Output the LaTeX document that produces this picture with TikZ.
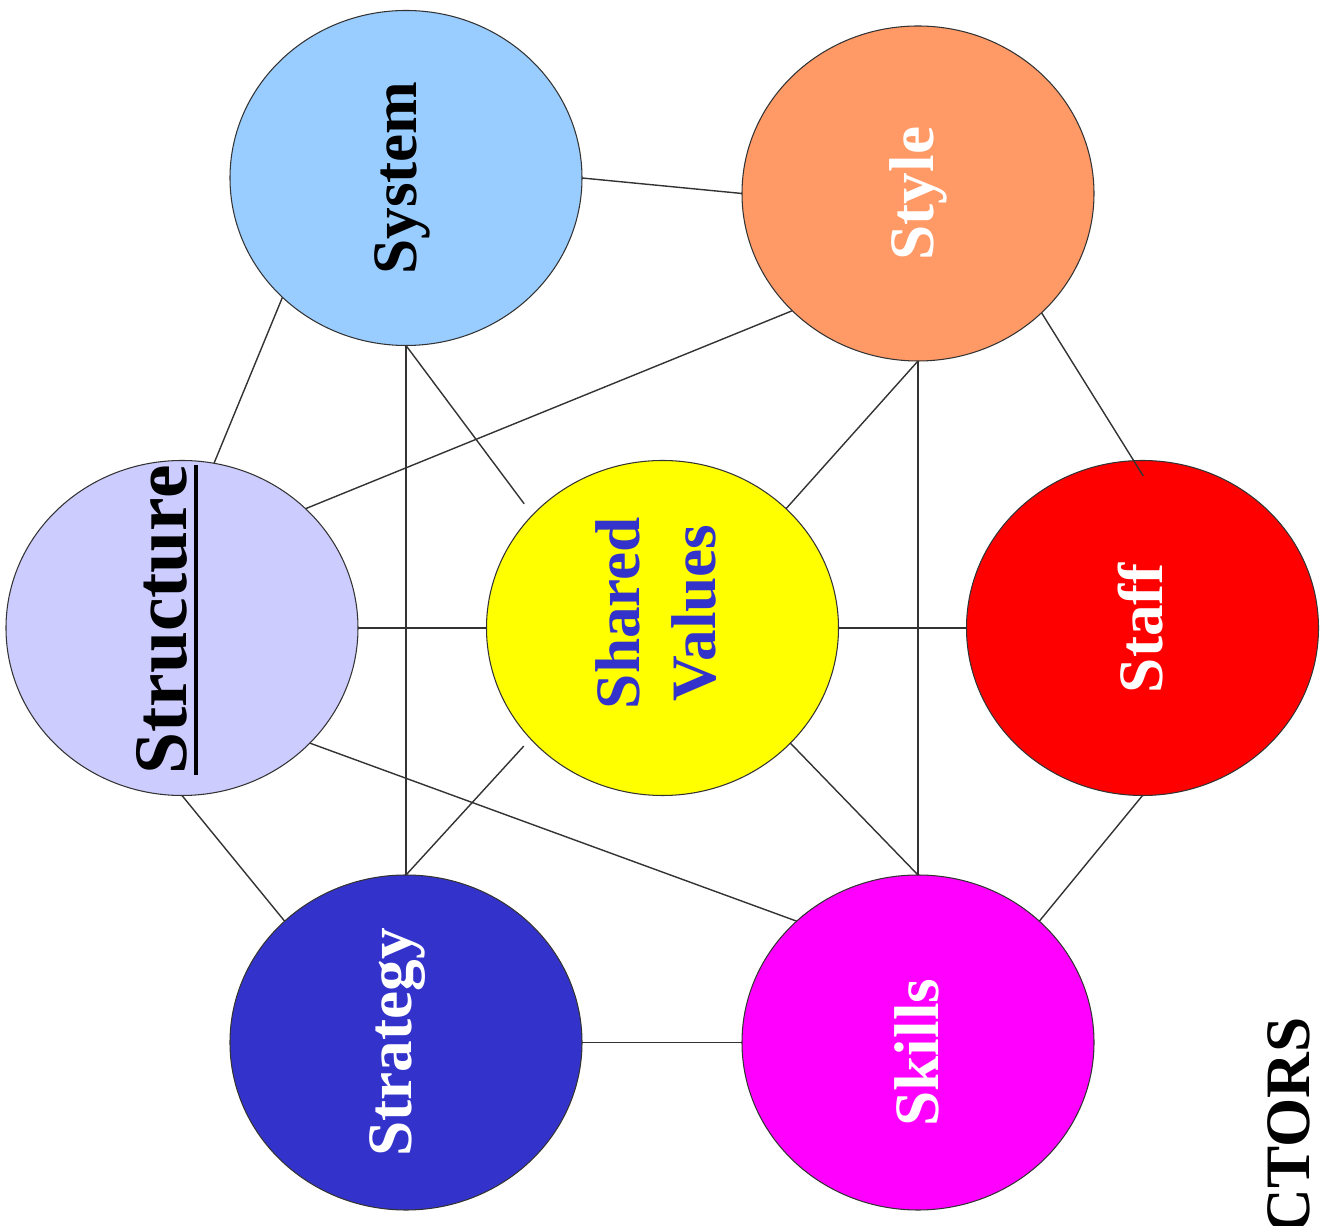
\documentclass[tikz,border=0pt]{standalone}
\usepackage{fontspec}
\setmainfont{Liberation Serif}
\usetikzlibrary{positioning, shapes.geometric}

\definecolor{systemblue}{RGB}{153,204,255}
\definecolor{styleorange}{RGB}{255,153,102}
\definecolor{structlilac}{RGB}{204,204,255}
\definecolor{strategyblue}{RGB}{51,51,204}
\definecolor{sharedyellow}{RGB}{255,255,0}
\definecolor{skillsmagenta}{RGB}{255,0,255}
\definecolor{staffred}{RGB}{255,0,0}

% rotated label of no size, centred on the node, moved by #1 (right) and #2 (up)
\newsavebox\turnbox
\newcommand{\shiftlabel}[3]{\sbox\turnbox{\rotatebox{90}{\begin{tabular}{@{}c@{}}#3\end{tabular}}}%
  \smash{\hspace*{#1}\makebox[0pt]{\raisebox{\dimexpr(\dp\turnbox-\ht\turnbox)/2+#2\relax}{\usebox\turnbox}}\hspace*{-#1}}}
\newcommand{\turnlabel}[1]{\shiftlabel{0pt}{0pt}{#1}}
\newcommand{\thickul}[1]{\vtop{\hbox{#1}\kern4pt\hrule height 2.3pt}}

\tikzset{
  factor/.style={ellipse, draw=black!80, line width=0.6pt,
    minimum width=7.04cm, minimum height=6.7cm, inner sep=0pt, outer sep=0pt,
    font=\bfseries\fontsize{36}{43}\selectfont},
  link/.style={draw=black!80, line width=0.8pt}
}

\begin{document}
\begin{tikzpicture}[node distance=1cm, on grid]
    \useasboundingbox (-13.25,-11.96) rectangle (13.23,12.56);
    % middle row
    \node[factor, fill=sharedyellow, text=strategyblue] (shared) at (0,0) {\shiftlabel{0pt}{0.3cm}{Shared\\Values}};
    \node[factor, fill=structlilac, font=\bfseries\fontsize{43}{52}\selectfont, left=9.61cm of shared] (structure) {\shiftlabel{-0.28cm}{0.16cm}{\thickul{Structure}}};
    \node[factor, fill=staffred, text=white, right=9.6cm of shared] (staff) {\shiftlabel{0.1cm}{0pt}{Staff}};
    % top and bottom pairs
    \node[factor, fill=systemblue, above left=9cm and 5.13cm of shared] (system) {\shiftlabel{-0.1cm}{0pt}{System}};
    \node[factor, fill=styleorange, text=white, above right=8.69cm and 5.11cm of shared] (style) {\turnlabel{Style}};
    \node[factor, fill=strategyblue, text=white, below left=8.29cm and 5.13cm of shared] (strategy) {\shiftlabel{-0.2cm}{0pt}{Strategy}};
    \node[factor, fill=skillsmagenta, text=white, below right=8.29cm and 5.11cm of shared] (skills) {\shiftlabel{0.1cm}{-0.2cm}{Skills}};
    \node[inner sep=0pt, font=\bfseries\fontsize{36}{43}\selectfont, below right=9.96cm and 12.53cm of shared] (ctors) {\rotatebox{90}{CTORS}};

    % connections
    \draw[link] (system.east) -- (style.west);
    \draw[link] (system.224) -- (structure.79);
    \draw[link] (system.south) -- (strategy.north);
    \draw[link, shorten >=0.28cm] (system.south) -- (shared.139);
    \draw[link] (style.223) -- (structure.44);
    \draw[link] (style.south) -- (shared.44);
    \draw[link] (style.south) -- (skills.north);
    \draw[link, shorten >=-0.36cm] (style.316) -- (staff.93);
    \draw[link] (structure.east) -- (shared.west);
    \draw[link] (shared.east) -- (staff.west);
    \draw[link] (structure.south) -- (strategy.135);
    \draw[link] (structure.318) -- (skills.135);
    \draw[link, shorten <=0.2cm] (shared.220) -- (strategy.north);
    \draw[link] (shared.318) -- (skills.north);
    \draw[link] (staff.south) -- (skills.45);
    \draw[link] (strategy.east) -- (skills.west);
\end{tikzpicture}
\end{document}
